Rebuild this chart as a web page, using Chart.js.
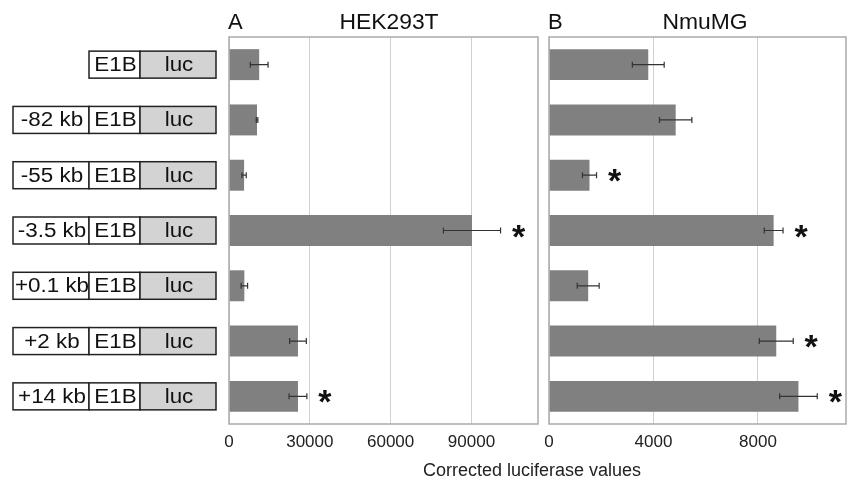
<!DOCTYPE html>
<html>
<head>
<meta charset="utf-8">
<script src="https://cdn.jsdelivr.net/npm/chart.js@4.4.1/dist/chart.umd.min.js"></script>
<style>
  body { margin: 0; background: #fff; }
  #wrap { position: relative; width: 850px; height: 486px; overflow: hidden; font-family: 'Liberation Sans', Arial, sans-serif; }
  .panel { position: absolute; top: 0; height: 486px; }
  #pa { left: 0; width: 540px; }
  #pb { left: 540px; width: 310px; }
  #xtitle { position: absolute; left: 332px; width: 400px; top: 460px; text-align: center; font-size: 18px; color: #222; }
</style>
</head>
<body>
<div id="wrap">
  <div class="panel" id="pa"><canvas id="chartA" width="540" height="486"></canvas></div>
  <div class="panel" id="pb"><canvas id="chartB" width="310" height="486"></canvas></div>
  <div id="xtitle">Corrected luciferase values</div>
</div>
<script>
// constructs, top to bottom ('' = promoter only)
const constructs = ['', '-82 kb', '-55 kb', '-3.5 kb', '+0.1 kb', '+2 kb', '+14 kb'];

// A: HEK293T
const hekValues = [11200, 10400, 5600, 90200, 5700, 25600, 25600];
const hekErrors = [3300, 300, 800, 10600, 1200, 3100, 3300];
const hekSig = [false, false, false, true, false, false, true];
const hekTicks = [0, 30000, 60000, 90000];

// B: NmuMG
const nmuValues = [3800, 4850, 1550, 8600, 1500, 8700, 9550];
const nmuErrors = [610, 620, 270, 360, 420, 650, 720];
const nmuSig = [false, false, true, true, false, true, true];
const nmuTicks = [0, 4000, 8000];

const FONT = "'Liberation Sans', Arial, sans-serif";

function wideText(ctx, text, x, y, k) {
  ctx.save();
  ctx.translate(x, y);
  ctx.scale(k, 1);
  ctx.fillText(text, 0, 0);
  ctx.restore();
}

// frame, error bars, asterisks, panel titles
function marksPlugin(errors, sig, letter, title, titleX) {
  return {
    id: 'marks',
    afterDatasetsDraw(chart) {
      const ctx = chart.ctx;
      const a = chart.chartArea;
      const xs = chart.scales.x;
      const vals = chart.data.datasets[0].data;
      const meta = chart.getDatasetMeta(0);

      ctx.save();
      ctx.strokeStyle = '#aaaaaa';
      ctx.lineWidth = 1.5;
      ctx.strokeRect(a.left, a.top, a.right - a.left, a.bottom - a.top);

      ctx.strokeStyle = '#333';
      ctx.lineWidth = 1.2;
      meta.data.forEach((bar, i) => {
        const lo = xs.getPixelForValue(vals[i] - errors[i]);
        const hi = xs.getPixelForValue(vals[i] + errors[i]);
        const y = bar.y;
        ctx.beginPath();
        ctx.moveTo(lo, y); ctx.lineTo(hi, y);
        ctx.moveTo(lo, y - 3); ctx.lineTo(lo, y + 3);
        ctx.moveTo(hi, y - 3); ctx.lineTo(hi, y + 3);
        ctx.stroke();
        if (sig[i]) {
          ctx.fillStyle = '#111';
          ctx.font = 'bold 34px ' + FONT;
          ctx.textAlign = 'center';
          ctx.textBaseline = 'alphabetic';
          ctx.fillText('*', hi + 18, y + 17);
        }
      });

      ctx.fillStyle = '#111';
      ctx.textBaseline = 'alphabetic';
      ctx.font = '22px ' + FONT;
      ctx.textAlign = 'left';
      ctx.fillText(letter, a.left - 1, 29);
      ctx.textAlign = 'center';
      wideText(ctx, title, titleX, 29, 1.04);
      ctx.restore();
    }
  };
}

// construct diagrams on the left of panel A
const constructPlugin = {
  id: 'constructs',
  afterDraw(chart) {
    const ctx = chart.ctx;
    const ys = chart.scales.y;
    ctx.save();
    ctx.lineWidth = 1.5;
    ctx.strokeStyle = '#222';
    ctx.font = '20px ' + FONT;
    ctx.textAlign = 'center';
    ctx.textBaseline = 'middle';
    constructs.forEach((c, i) => {
      const yc = ys.getPixelForValue(i);
      const top = yc - 13.5, h = 27;
      const boxes = [];
      if (c !== '') boxes.push([13, 76, '#fff', c]);
      boxes.push([89, 51, '#fff', 'E1B']);
      boxes.push([140, 76, '#d3d3d3', 'luc']);
      boxes.forEach(([x, w, fill, txt]) => {
        ctx.fillStyle = fill;
        ctx.fillRect(x, top, w, h);
        ctx.strokeRect(x, top, w, h);
        ctx.fillStyle = '#111';
        wideText(ctx, txt, x + w / 2 + 1, yc + 1, 1.12);
      });
    });
    ctx.restore();
  }
};

function panelOptions(max, ticks, padLeft, padRight) {
  return {
    indexAxis: 'y',
    responsive: false,
    animation: false,
    layout: { padding: { left: padLeft, right: padRight, top: 37, bottom: 37 } },
    plugins: { legend: { display: false }, tooltip: { enabled: false } },
    scales: {
      x: {
        min: 0,
        max: max,
        afterBuildTicks: s => { s.ticks = ticks.map(v => ({ value: v })); },
        afterFit: s => { s.height = 25; s.paddingLeft = 0; s.paddingRight = 0; },
        grid: { color: '#d0d0d0', lineWidth: 1, drawTicks: false },
        border: { display: false },
        ticks: {
          color: '#222', padding: 8, maxRotation: 0, minRotation: 0,
          font: { size: 17, family: FONT },
          callback: v => String(v)
        }
      },
      y: {
        afterFit: s => { s.width = 0; },
        grid: { display: false },
        border: { display: false },
        ticks: { display: false }
      }
    }
  };
}

new Chart(document.getElementById('chartA'), {
  type: 'bar',
  data: {
    labels: constructs,
    datasets: [{
      data: hekValues,
      backgroundColor: '#808080',
      barPercentage: 0.56,
      categoryPercentage: 1
    }]
  },
  options: panelOptions(114700, hekTicks, 229, 2),
  plugins: [marksPlugin(hekErrors, hekSig, 'A', 'HEK293T', 389), constructPlugin]
});

new Chart(document.getElementById('chartB'), {
  type: 'bar',
  data: {
    labels: constructs,
    datasets: [{
      data: nmuValues,
      backgroundColor: '#808080',
      barPercentage: 0.56,
      categoryPercentage: 1
    }]
  },
  options: panelOptions(11370, nmuTicks, 9, 4),
  plugins: [marksPlugin(nmuErrors, nmuSig, 'B', 'NmuMG', 165)]
});
</script>
</body>
</html>
